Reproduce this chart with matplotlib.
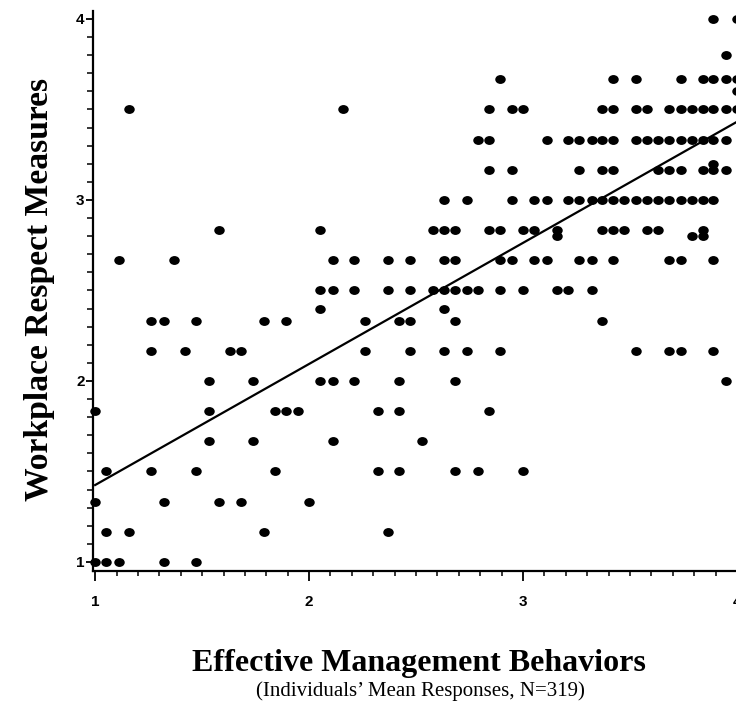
import matplotlib
matplotlib.use("Agg")
from matplotlib import pyplot as plt
from matplotlib.markers import MarkerStyle
from matplotlib.ticker import MultipleLocator
from matplotlib.transforms import Affine2D
import numpy as np

# x positions (Effective Management Behaviors) of the dots, one list per response level
row_4_00 = [3.89, 4.00]
row_3_80 = [3.95]
row_3_67 = [2.89, 3.42, 3.53, 3.74, 3.84, 3.89, 3.95, 4.00]
row_3_60 = [4.00]
row_3_50 = [1.16, 2.16, 2.84, 2.95, 3.00, 3.37, 3.42, 3.53, 3.58, 3.68, 3.74, 3.79,
            3.84, 3.89, 3.95, 4.00]
row_3_33 = [2.79, 2.84, 3.11, 3.21, 3.26, 3.32, 3.37, 3.42, 3.53, 3.58, 3.63, 3.68,
            3.74, 3.79, 3.84, 3.89, 3.95]
row_3_20 = [3.89]
row_3_17 = [2.84, 2.95, 3.26, 3.37, 3.42, 3.63, 3.68, 3.74, 3.84, 3.89, 3.95]
row_3_00 = [2.63, 2.74, 2.95, 3.05, 3.11, 3.21, 3.26, 3.32, 3.37, 3.42, 3.47, 3.53,
            3.58, 3.63, 3.68, 3.74, 3.79, 3.84, 3.89]
row_2_83 = [1.58, 2.05, 2.58, 2.63, 2.68, 2.84, 2.89, 3.00, 3.05, 3.16, 3.37, 3.42,
            3.47, 3.58, 3.63, 3.84]
row_2_80 = [3.16, 3.79, 3.84]
row_2_67 = [1.11, 1.37, 2.11, 2.21, 2.37, 2.47, 2.63, 2.68, 2.89, 2.95, 3.05, 3.11,
            3.26, 3.32, 3.42, 3.68, 3.74, 3.89]
row_2_50 = [2.05, 2.11, 2.21, 2.37, 2.47, 2.58, 2.63, 2.68, 2.74, 2.79, 2.89, 3.00,
            3.16, 3.21, 3.32]
row_2_40 = [2.05, 2.63]
row_2_33 = [1.26, 1.32, 1.47, 1.79, 1.89, 2.26, 2.42, 2.47, 2.68, 3.37]
row_2_17 = [1.26, 1.42, 1.63, 1.68, 2.26, 2.47, 2.63, 2.74, 2.89, 3.53, 3.68, 3.74, 3.89]
row_2_00 = [1.53, 1.74, 2.05, 2.11, 2.21, 2.42, 2.68, 3.95]
row_1_83 = [1.00, 1.53, 1.84, 1.89, 1.95, 2.32, 2.42, 2.84]
row_1_67 = [1.53, 1.74, 2.11, 2.53]
row_1_50 = [1.05, 1.26, 1.47, 1.84, 2.32, 2.42, 2.68, 2.79, 3.00]
row_1_33 = [1.00, 1.32, 1.58, 1.68, 2.00]
row_1_17 = [1.05, 1.16, 1.79, 2.37]
row_1_00 = [1.00, 1.05, 1.11, 1.32, 1.47]

rows = [
    (4.00, row_4_00), (3.80, row_3_80), (3.667, row_3_67), (3.60, row_3_60),
    (3.50, row_3_50), (3.333, row_3_33), (3.20, row_3_20), (3.167, row_3_17),
    (3.00, row_3_00), (2.833, row_2_83), (2.80, row_2_80), (2.667, row_2_67),
    (2.50, row_2_50), (2.40, row_2_40), (2.333, row_2_33), (2.167, row_2_17),
    (2.00, row_2_00), (1.833, row_1_83), (1.667, row_1_67), (1.50, row_1_50),
    (1.333, row_1_33), (1.167, row_1_17), (1.00, row_1_00),
]

# fitted regression line
fit_intercept = 0.756
fit_slope = 0.669
fit_x = [1.0, 4.0]

xs = []
ys = []
for level, vals in rows:
    xs += vals
    ys += [level] * len(vals)

fig = plt.figure(figsize=(7.36, 7.08), dpi=100)
ax = fig.add_axes([93 / 736, 137 / 708, 654.7 / 736, 560 / 708])

dot = MarkerStyle("o", transform=Affine2D().scale(1.18, 1.0))
ax.plot(xs, ys, linestyle="none", marker=dot, markersize=6.4,
        color="black", markeredgewidth=0, clip_on=False)

fx = np.array(fit_x)
ax.plot(fx, fit_intercept + fit_slope * fx, color="black", linewidth=1.6)

ax.set_xlim(0.99, 4.05)
ax.set_ylim(0.95, 4.044)

for side in ["top", "right"]:
    ax.spines[side].set_visible(False)
for side in ["left", "bottom"]:
    ax.spines[side].set_linewidth(1.6)

ax.xaxis.set_major_locator(MultipleLocator(1))
ax.xaxis.set_minor_locator(MultipleLocator(0.1))
ax.yaxis.set_major_locator(MultipleLocator(1))
ax.yaxis.set_minor_locator(MultipleLocator(0.1))
ax.tick_params(which="major", axis="x", length=7, width=1.3, direction="out", pad=10)
ax.tick_params(which="minor", axis="x", length=3.5, width=1.1, direction="out")
ax.tick_params(which="major", axis="y", length=5, width=1.3, direction="out", pad=1)
ax.tick_params(which="minor", axis="y", length=4, width=1.1, direction="out")

for lab in ax.get_xticklabels() + ax.get_yticklabels():
    lab.set_fontfamily("Liberation Sans")
    lab.set_fontweight("bold")
    lab.set_fontsize(11)

fig.text(419 / 736, 1 - 664 / 708, "Effective Management Behaviors",
         family="Liberation Serif", weight="bold", fontsize=23,
         ha="center", va="center")
fig.text(420 / 736, 1 - 691 / 708, "(Individuals\u2019 Mean Responses, N=319)",
         family="Liberation Serif", fontsize=15, ha="center", va="center")
fig.text(40 / 736, 1 - 289 / 708, "Workplace Respect Measures",
         family="Liberation Serif", weight="bold", fontsize=24.2,
         rotation=90, ha="center", va="center")

fig.savefig("out.png", dpi=100)
